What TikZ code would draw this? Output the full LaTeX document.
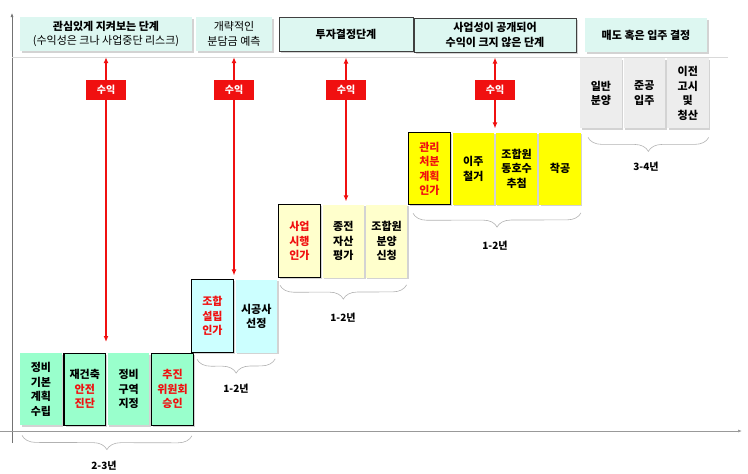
\documentclass[tikz,border=0pt]{standalone}
\usepackage{fontspec}
\setmainfont{Noto Sans CJK KR}
\usetikzlibrary{positioning,shadows,decorations.pathreplacing,arrows.meta}
\definecolor{mint}{HTML}{99FFCC}
\definecolor{sky}{HTML}{CCFFFF}
\definecolor{cream}{HTML}{FFFFCC}
\definecolor{lemon}{HTML}{FFFF00}
\definecolor{ash}{HTML}{EDEDED}
\definecolor{headfill}{HTML}{DDF7F1}
\definecolor{hot}{HTML}{F01010}
\begin{document}
\begin{tikzpicture}
	[x=1pt, y=-1pt,
	every node/.style = {align=center, font=\fontsize{11}{14.5}\selectfont\bfseries},
	box/.style = {fill=#1, minimum width=41.5pt, minimum height=72pt, inner sep=0pt,
		drop shadow={shadow xshift=1.5pt, shadow yshift=-1.5pt, opacity=.35}},
	keybox/.style = {box=#1, draw=black, line width=1.3pt},
	head/.style = {fill=headfill, minimum height=34pt, inner sep=2pt,
		drop shadow={shadow xshift=1.5pt, shadow yshift=-1.5pt, opacity=.35}},
	keyhead/.style = {head, draw=black!75, line width=1pt},
	gain/.style = {draw=hot, line width=1.3pt,
		{Latex[length=6pt,width=5pt]}-{Latex[length=6pt,width=5pt]}},
	gaintag/.style = {fill=hot, text=white, minimum width=40pt, minimum height=20pt, inner sep=0pt,
		font=\fontsize{10}{12}\selectfont\bfseries},
	span/.style = {decorate, decoration={brace, mirror, amplitude=14pt}, draw=black!30, line width=.6pt},
	term/.style = {font=\fontsize{10}{12}\selectfont\bfseries},
	axis/.style = {draw=black!55, line width=.6pt, -{Latex[length=4pt,width=3pt]}}]
	\useasboundingbox (0,0) rectangle (748,474);
	\draw[axis] (12,443) -- (12,13);
	\draw[axis, draw=black!40] (0,431) -- (742,431);
	\draw[black!15, line width=.8pt] (12,57) -- (728,57);

	\node[head, minimum width=172pt] (h1) at (106,34) {관심있게 지켜보는 단계\\\fontsize{11}{14.5}\selectfont\mdseries (수익성은 크나 사업중단 리스크)};
	\node[head, minimum width=76pt, font=\fontsize{11}{14.5}\selectfont] (h2) at (234,34) {개략적인\\분담금 예측};
	\node[keyhead, minimum width=134pt] (h3) at (346,34) {투자결정단계};
	\node[keyhead, minimum width=162pt] (h4) at (495,35) {사업성이 공개되어\\수익이 크지 않은 단계};
	\node[head, minimum width=122pt] (h5) at (646,35) {매도 혹은 입주 결정};

	\node[box=mint, anchor=north west] (s1a) at (20,353) {정비\\기본\\계획\\수립};
	\node[keybox=mint, right=1.5pt of s1a] (s1b) {재건축\\\textcolor{hot}{안전}\\\textcolor{hot}{진단}};
	\node[box=mint, right=1.5pt of s1b] (s1c) {정비\\구역\\지정};
	\node[keybox=mint, text=hot, right=1.5pt of s1c] (s1d) {추진\\위원회\\승인};

	\node[keybox=sky, text=hot, anchor=north west, minimum height=73pt] (s2a) at (191,279) {조합\\설립\\인가};
	\node[box=sky, minimum height=73pt, right=1.5pt of s2a] (s2b) {시공사\\선정};

	\node[keybox=cream, text=hot, anchor=north west, minimum height=73pt] (s3a) at (278,204) {사업\\시행\\인가};
	\node[box=cream, minimum height=73pt, right=1.5pt of s3a] (s3b) {종전\\자산\\평가};
	\node[box=cream, minimum height=73pt, right=1.5pt of s3b] (s3c) {조합원\\분양\\신청};

	\node[keybox=lemon, text=hot, anchor=north west] (s4a) at (408,132) {관리\\처분\\계획\\인가};
	\node[box=lemon, right=1.5pt of s4a] (s4b) {이주\\철거};
	\node[box=lemon, right=1.5pt of s4b] (s4c) {조합원\\동호수\\추첨};
	\node[box=lemon, right=1.5pt of s4c] (s4d) {착공};

	\node[box=ash, anchor=north west, minimum height=70pt] (s5a) at (580,58) {일반\\분양};
	\node[box=ash, minimum height=70pt, right=1.5pt of s5a] (s5b) {준공\\입주};
	\node[box=ash, minimum height=70pt, right=1.5pt of s5b] (s5c) {이전\\고시\\및\\청산};

	\draw[gain, shorten <=6pt, shorten >=11pt] (h1.south) -- (h1.south |- s1c.north);
	\draw[gain, shorten <=6pt, shorten >=4pt] (h2.south) -- (h2.south |- s2b.north);
	\draw[gain, shorten <=6pt, shorten >=3pt] (h3.south) -- (h3.south |- s3b.north);
	\draw[gain, shorten <=5pt, shorten >=4pt] (h4.south) -- (h4.south |- s4b.north);
	\node[gaintag] (g1) at (106,90) {수익};
	\node[gaintag] (g2) at (234,90) {수익};
	\node[gaintag] (g3) at (346,90) {수익};
	\node[gaintag] (g4) at (495,90) {수익};

	\draw[span] ([xshift=2pt, yshift=-10pt]s1a.south west) -- ([xshift=-2pt, yshift=-10pt]s1d.south east);
	\draw[span] ([xshift=6pt, yshift=-6pt]s2a.south west) -- ([xshift=-2pt, yshift=-6pt]s2b.south east);
	\draw[span] ([xshift=2pt, yshift=-7pt]s3a.south west) -- ([xshift=-1pt, yshift=-7pt]s3c.south east);
	\draw[span] ([xshift=5pt, yshift=-8pt]s4a.south west) -- ([xshift=0pt, yshift=-8pt]s4d.south east);
	\draw[span] ([xshift=8pt, yshift=-9pt]s5a.south west) -- ([xshift=0pt, yshift=-9pt]s5c.south east);
	\node[term] (y1) at (104,466) {2-3년};
	\node[term] (y2) at (236,389) {1-2년};
	\node[term] (y3) at (343,318) {1-2년};
	\node[term] (y4) at (495,246) {1-2년};
	\node[term] (y5) at (646,167) {3-4년};
\end{tikzpicture}
\end{document}
